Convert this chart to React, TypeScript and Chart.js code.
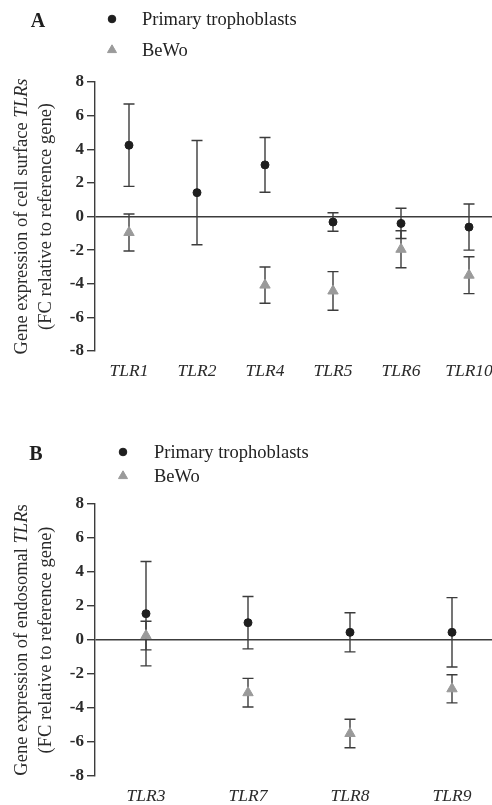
import React, { useEffect, useRef } from 'react';
import { Chart, registerables } from 'chart.js';
import { drawPoint } from 'chart.js/helpers';

Chart.register(...registerables);

// ---------- data ----------
const categoriesA = ['TLR1', 'TLR2', 'TLR4', 'TLR5', 'TLR6', 'TLR10'];
const primaryMeanA = [4.24, 1.42, 3.07, -0.33, -0.41, -0.63];
const primarySdA = [2.45, 3.1, 1.63, 0.55, 0.9, 1.37];
const bewoMeanA: (number | null)[] = [-0.95, null, -4.08, -4.43, -1.95, -3.49];
const bewoSdA: (number | null)[] = [1.1, null, 1.08, 1.15, 1.1, 1.1];

const categoriesB = ['TLR3', 'TLR7', 'TLR8', 'TLR9'];
const primaryMeanB = [1.55, 1.02, 0.45, 0.45];
const primarySdB = [3.07, 1.54, 1.15, 2.04];
const bewoMeanB = [0.26, -3.1, -5.5, -2.87];
const bewoSdB = [0.84, 0.84, 0.84, 0.83];

const yMin = -8;
const yMax = 8;
const yStep = 2;

const seriesNames = ['Primary trophoblasts', 'BeWo'];

const titleA = [
  [{ text: 'Gene expression of cell surface ', italic: false }, { text: 'TLRs', italic: true }],
  [{ text: '(FC relative to reference gene)', italic: false }],
];
const titleB = [
  [{ text: 'Gene expression of endosomal ', italic: false }, { text: 'TLR', italic: true }, { text: 's', italic: false }],
  [{ text: '(FC relative to reference gene)', italic: false }],
];

// ---------- styles ----------
const FONT = "'Liberation Serif', 'Times New Roman', serif";
const DARK = '#1e1e1e';
const GREY = '#9a9a9a';
const LINE = '#3c3c3c';

const errorBarPlugin = {
  id: 'errorBars',
  beforeDatasetsDraw(chart: any) {
    const ctx = chart.ctx;
    const y = chart.scales.y;
    chart.data.datasets.forEach((ds: any, i: number) => {
      const meta = chart.getDatasetMeta(i);
      const errs = ds.errors || [];
      meta.data.forEach((el: any, j: number) => {
        const v = ds.data[j];
        const e = errs[j];
        if (v == null || e == null) return;
        const x = el.x;
        const top = y.getPixelForValue(v + e);
        const bot = y.getPixelForValue(v - e);
        ctx.save();
        ctx.strokeStyle = LINE;
        ctx.lineWidth = 1.4;
        ctx.beginPath();
        ctx.moveTo(x, top);
        ctx.lineTo(x, bot);
        ctx.moveTo(x - 5.5, top);
        ctx.lineTo(x + 5.5, top);
        ctx.moveTo(x - 5.5, bot);
        ctx.lineTo(x + 5.5, bot);
        ctx.stroke();
        ctx.restore();
      });
    });
  },
};

const panelLegendPlugin = {
  id: 'panelLegend',
  afterDraw(chart: any, _args: any, opts: any) {
    const ctx = chart.ctx;
    ctx.save();
    ctx.fillStyle = DARK;
    ctx.font = `bold 20px ${FONT}`;
    ctx.textAlign = 'center';
    ctx.textBaseline = 'middle';
    ctx.fillText(opts.letter, opts.letterX, opts.letterY);
    chart.data.datasets.forEach((ds: any, i: number) => {
      const yy = opts.itemY[i];
      ctx.fillStyle = ds.backgroundColor;
      ctx.strokeStyle = ds.borderColor;
      ctx.lineWidth = 1;
      drawPoint(ctx, { pointStyle: ds.pointStyle, radius: opts.markerRadius[i], borderWidth: 1, rotation: 0 } as any, opts.markerX, yy);
      ctx.fillStyle = '#222';
      ctx.font = `18.5px ${FONT}`;
      ctx.textAlign = 'left';
      ctx.textBaseline = 'middle';
      ctx.fillText(ds.label, opts.textX, yy + 1);
    });
    ctx.restore();
  },
};

const mixedTitlePlugin = {
  id: 'mixedTitle',
  afterDraw(chart: any, _args: any, opts: any) {
    const ctx = chart.ctx;
    const area = chart.chartArea;
    const cy = (area.top + area.bottom) / 2;
    ctx.save();
    ctx.fillStyle = '#2a2a2a';
    ctx.textBaseline = 'middle';
    ctx.textAlign = 'left';
    opts.lines.forEach((segs: any[], li: number) => {
      const fonts = segs.map((s) => `${s.italic ? 'italic ' : ''}18.5px ${FONT}`);
      let total = 0;
      const widths = segs.map((s, k) => {
        ctx.font = fonts[k];
        const w = ctx.measureText(s.text).width;
        total += w;
        return w;
      });
      ctx.save();
      ctx.translate(opts.xs[li], cy);
      ctx.rotate(-Math.PI / 2);
      let x = -total / 2;
      segs.forEach((s, k) => {
        ctx.font = fonts[k];
        ctx.fillText(s.text, x, 0);
        x += widths[k];
      });
      ctx.restore();
    });
    ctx.restore();
  },
};

function makeConfig(
  categories: string[],
  pMean: (number | null)[],
  pSd: (number | null)[],
  bMean: (number | null)[],
  bSd: (number | null)[],
  padTop: number,
  legend: any,
  title: any
): any {
  return {
    type: 'line',
    data: {
      labels: categories,
      datasets: [
        {
          label: seriesNames[0],
          data: pMean,
          errors: pSd,
          showLine: false,
          pointStyle: 'circle',
          pointRadius: 4,
          pointBorderWidth: 1,
          backgroundColor: DARK,
          borderColor: DARK,
        },
        {
          label: seriesNames[1],
          data: bMean,
          errors: bSd,
          showLine: false,
          pointStyle: 'triangle',
          pointRadius: 6,
          pointBorderWidth: 1,
          backgroundColor: GREY,
          borderColor: GREY,
        },
      ],
    },
    options: {
      responsive: false,
      animation: false,
      devicePixelRatio: 1,
      layout: { padding: { top: padTop, right: 17, bottom: 0, left: 0 } },
      plugins: {
        legend: { display: false },
        tooltip: { enabled: false },
        panelLegend: legend,
        mixedTitle: title,
      },
      scales: {
        x: {
          type: 'category',
          offset: true,
          grid: { display: false, drawTicks: false },
          border: { display: false },
          ticks: {
            color: '#2a2a2a',
            padding: 10,
            maxRotation: 0,
            autoSkip: false,
            font: { family: FONT, size: 17.5, style: 'italic' },
          },
          afterFit(axis: any) {
            axis.height = 29;
          },
        },
        y: {
          min: yMin,
          max: yMax,
          ticks: {
            stepSize: yStep,
            color: '#2a2a2a',
            padding: 3,
            font: { family: FONT, size: 17, weight: 'bold' },
          },
          grid: {
            drawTicks: true,
            tickLength: 8,
            lineWidth: 1.4,
            tickWidth: 1.4,
            tickColor: LINE,
            color: (c: any) => (c.tick && c.tick.value === 0 ? LINE : 'rgba(0,0,0,0)'),
          },
          border: { display: true, color: LINE, width: 1.4 },
          afterFit(axis: any) {
            axis.width = 95;
          },
        },
      },
    },
    plugins: [errorBarPlugin, panelLegendPlugin, mixedTitlePlugin],
  };
}

function ChartCanvas({ config, width, height, top }: { config: () => any; width: number; height: number; top: number }) {
  const ref = useRef<HTMLCanvasElement | null>(null);
  useEffect(() => {
    if (!ref.current) return;
    const chart = new Chart(ref.current, config());
    return () => chart.destroy();
  }, []);
  return (
    <canvas
      ref={ref}
      width={width}
      height={height}
      style={{ position: 'absolute', left: 0, top, width, height }}
    />
  );
}

export default function App() {
  return (
    <div
      style={{
        position: 'absolute',
        left: 0,
        top: 0,
        width: 492,
        height: 805,
        overflow: 'hidden',
        background: '#fff',
      }}
    >
      <ChartCanvas
        top={0}
        width={520}
        height={380}
        config={() =>
          makeConfig(
            categoriesA,
            primaryMeanA,
            primarySdA,
            bewoMeanA,
            bewoSdA,
            82,
            { letter: 'A', letterX: 38, letterY: 22, markerX: 112, textX: 142, itemY: [19, 50], markerRadius: [3.8, 5.2] },
            { lines: titleA, xs: [22, 46] }
          )
        }
      />
      <ChartCanvas
        top={400}
        width={520}
        height={405}
        config={() =>
          makeConfig(
            categoriesB,
            primaryMeanB,
            primarySdB,
            bewoMeanB,
            bewoSdB,
            104,
            { letter: 'B', letterX: 36, letterY: 55, markerX: 123, textX: 154, itemY: [52, 76], markerRadius: [3.8, 5.2] },
            { lines: titleB, xs: [22, 46] }
          )
        }
      />
    </div>
  );
}
